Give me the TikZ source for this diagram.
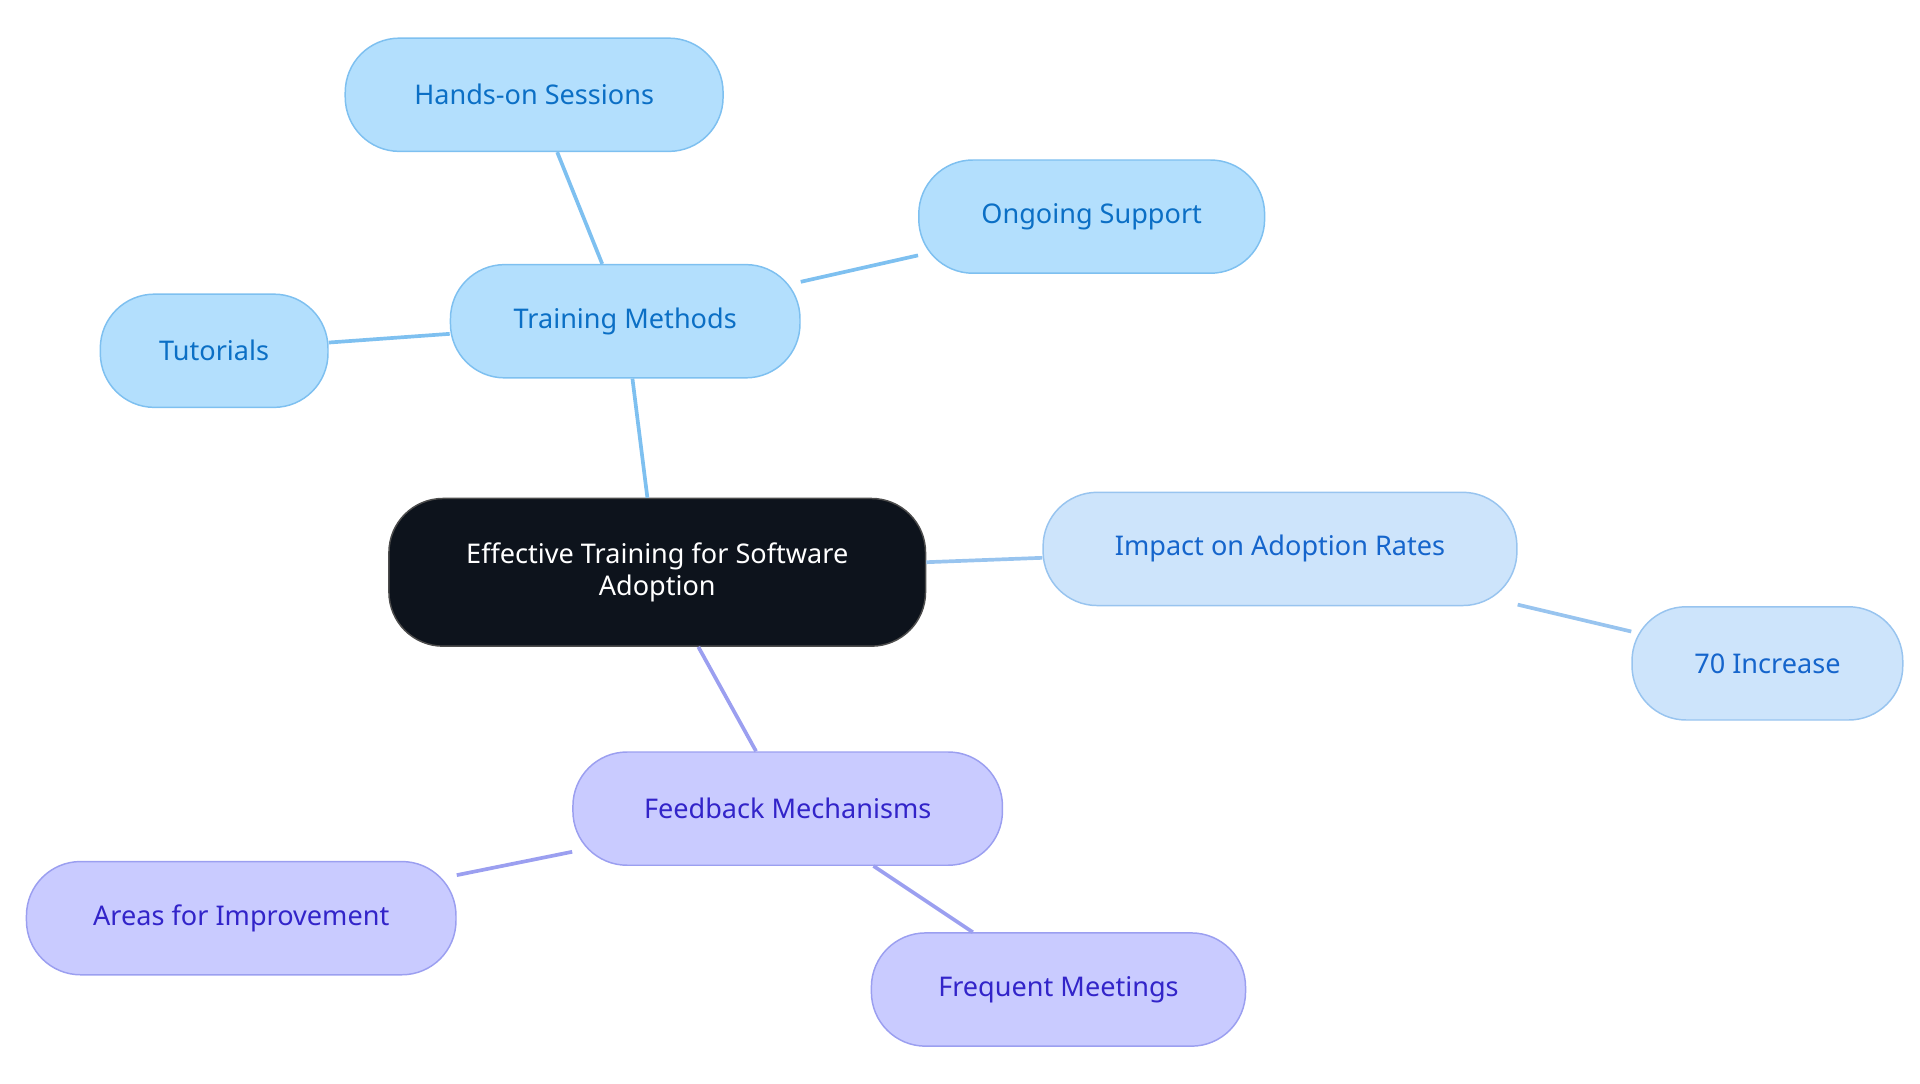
\documentclass[tikz,border=0pt]{standalone}
\usepackage{fontspec}
\setmainfont{Noto Sans}
\begin{document}
\begin{tikzpicture}[x=1pt,y=-1pt,
 base/.style={draw,line width=1.2pt,rounded corners=44pt,minimum height=92pt,font=\fontsize{22}{26}\selectfont,align=center,inner sep=0pt},
 bl/.style={base,fill=blb,draw=bls,text=blt},
 im/.style={base,fill=imb,draw=ims,text=imt},
 pu/.style={base,fill=pub,draw=pus,text=put},
 e/.style={line width=3pt}]
\definecolor{blb}{HTML}{B3DFFD}\definecolor{bls}{HTML}{7EC0F0}\definecolor{blt}{HTML}{0B6FC5}
\definecolor{imb}{HTML}{CDE4FB}\definecolor{ims}{HTML}{98C4EF}\definecolor{imt}{HTML}{1565CC}
\definecolor{pub}{HTML}{C9CBFF}\definecolor{pus}{HTML}{9B9FF0}\definecolor{put}{HTML}{3224C9}
\useasboundingbox (0,0) rectangle (1560,880);
\node[base,fill={rgb,255:red,13;green,19;blue,28},draw=black!70,text=white,minimum width=436pt,minimum height=120pt] (c) at (534,465) {Effective Training for Software\\Adoption};
\node[bl,minimum width=284pt] (tm) at (508,261) {Training Methods};
\node[bl,minimum width=307pt] (hs) at (434,77) {Hands-on Sessions};
\node[bl,minimum width=281pt] (os) at (887,176) {Ongoing Support};
\node[bl,minimum width=185pt] (tu) at (174,285) {Tutorials};
\node[im,minimum width=385pt] (ia) at (1040,446) {Impact on Adoption Rates};
\node[im,minimum width=220pt] (inc) at (1436,539) {70 Increase};
\node[pu,minimum width=349pt] (fm) at (640,657) {Feedback Mechanisms};
\node[pu,minimum width=349pt] (ai) at (196,746) {Areas for Improvement};
\node[pu,minimum width=304pt] (fr) at (860,804) {Frequent Meetings};
\begin{scope}[on background layer/.style={}]
\end{scope}
\draw[e,bls] (c.north)++(-8,0) -- (tm);
\draw[e,bls] (tm) -- (hs);
\draw[e,bls] (tm) -- (os);
\draw[e,bls] (tm) -- (tu);
\draw[e,ims] (c) -- (ia);
\draw[e,ims] (ia) -- (inc);
\draw[e,pus] (c) -- (fm);
\draw[e,pus] (fm) -- (ai);
\draw[e,pus] (fm) -- (fr);
\end{tikzpicture}
\end{document}
